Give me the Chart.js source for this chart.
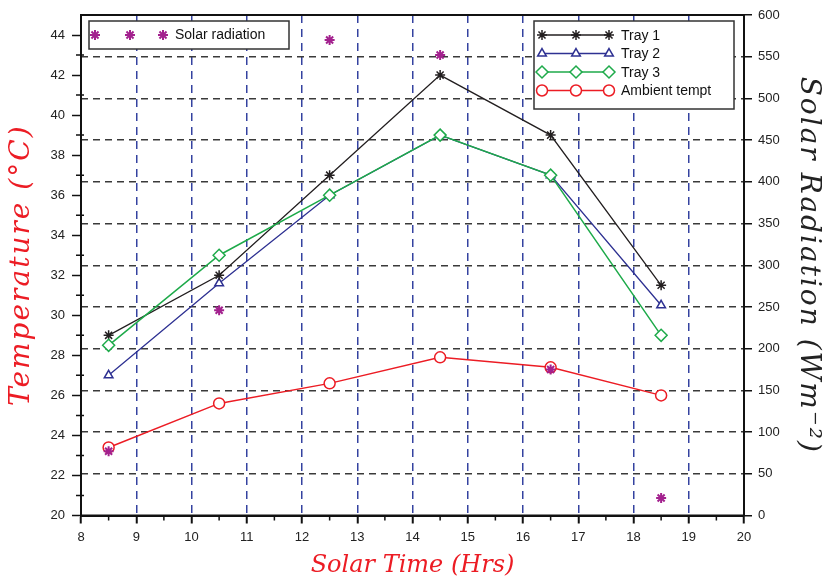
<!DOCTYPE html>
<html>
<head>
<meta charset="utf-8">
<script src="https://cdn.jsdelivr.net/npm/chart.js@4.4.1/dist/chart.umd.min.js"></script>
<style>
  html, body { margin: 0; padding: 0; background: #fff; }
  #wrap { width: 826px; height: 585px; }
</style>
</head>
<body>
<div id="wrap"><canvas id="c" width="826" height="585"></canvas></div>
<script>
// ---- data ----
const hours   = [8.5, 10.5, 12.5, 14.5, 16.5, 18.5];
const tray1   = [29, 32, 37, 42, 39, 31.5];
const tray2   = [27, 31.6, 36, 39, 37, 30.5];
const tray3   = [28.5, 33, 36, 39, 37, 29];
const ambient = [23.4, 25.6, 26.6, 27.9, 27.4, 26.0];
const solar   = [77, 246, 570, 552, 175, 21];

const xTicks    = [8, 9, 10, 11, 12, 13, 14, 15, 16, 17, 18, 19, 20];
const yTicks    = [20, 22, 24, 26, 28, 30, 32, 34, 36, 38, 40, 42, 44];
const y1Ticks   = [0, 50, 100, 150, 200, 250, 300, 350, 400, 450, 500, 550, 600];

const seriesNames = ['Tray 1', 'Tray 2', 'Tray 3', 'Ambient tempt'];
const solarName = 'Solar radiation';

const COL = {
  t1: '#231f20', t2: '#2e3192', t3: '#1eaa4a', amb: '#ec1c24', sol: '#a3218e',
  gridH: '#3a3a3a', gridV: '#3442a0'
};

const pts = arr => hours.map((h, i) => ({ x: h, y: arr[i] }));

const TICK_FONT = { family: 'Liberation Sans, Arial, sans-serif', size: 13 };
const titleFont = size => ({ family: 'DejaVu Serif, serif', size: size, style: 'italic', weight: 'normal' });

// adds letter spacing to a scale's title (math-italic look of the original)
function spacedTitle(s, spacing) {
  if (s._spacedTitle) return;
  s._spacedTitle = true;
  const orig = s.drawTitle;
  s.drawTitle = function () {
    const ctx = this.ctx;
    const prev = ctx.letterSpacing;
    ctx.letterSpacing = spacing;
    orig.apply(this, arguments);
    ctx.letterSpacing = prev || '0px';
  };
}

// draws border frame, minor ticks and the two in-plot legend boxes
const extras = {
  id: 'extras',
  afterDraw(chart) {
    const { ctx, chartArea: a, scales } = chart;
    const dp = Chart.helpers.drawPoint;
    ctx.save();
    ctx.setLineDash([]);
    // frame
    ctx.strokeStyle = '#111';
    ctx.lineWidth = 2;
    ctx.strokeRect(a.left, a.top, a.right - a.left, a.bottom - a.top);
    // minor ticks
    ctx.lineWidth = 1.5;
    ctx.beginPath();
    for (let v = 8.5; v < 20; v += 1) {
      const px = scales.x.getPixelForValue(v);
      ctx.moveTo(px, a.bottom); ctx.lineTo(px, a.bottom + 5);
    }
    for (let v = 21; v < 45; v += 2) {
      const py = scales.y.getPixelForValue(v);
      ctx.moveTo(a.left - 5, py); ctx.lineTo(a.left + 3, py);
    }
    ctx.stroke();

    // legend: solar radiation
    const L1 = { x: 89, y: 21, w: 200, h: 28 };
    ctx.fillStyle = '#fff';
    ctx.fillRect(L1.x, L1.y, L1.w, L1.h);
    ctx.strokeStyle = '#333';
    ctx.lineWidth = 1.5;
    ctx.strokeRect(L1.x, L1.y, L1.w, L1.h);
    ctx.strokeStyle = COL.sol; ctx.fillStyle = COL.sol; ctx.lineWidth = 2;
    [95, 130, 163].forEach(x => dp(ctx, { pointStyle: 'star', radius: 5, rotation: 0, borderWidth: 2 }, x, 35));
    ctx.fillStyle = '#111';
    ctx.font = '14px "Liberation Sans", Arial, sans-serif';
    ctx.textBaseline = 'middle';
    ctx.textAlign = 'left';
    ctx.fillText(solarName, 175, 35);

    // legend: trays
    const L2 = { x: 534, y: 21, w: 200, h: 88 };
    ctx.fillStyle = '#fff';
    ctx.fillRect(L2.x, L2.y, L2.w, L2.h);
    ctx.strokeStyle = '#333';
    ctx.lineWidth = 1.5;
    ctx.strokeRect(L2.x, L2.y, L2.w, L2.h);
    const rows = [
      { c: COL.t1, s: 'star', r: 5, bw: 1.5, fill: COL.t1 },
      { c: COL.t2, s: 'triangle', r: 5, bw: 1.5, fill: '#fff' },
      { c: COL.t3, s: 'rectRot', r: 6, bw: 1.5, fill: '#fff' },
      { c: COL.amb, s: 'circle', r: 5.5, bw: 1.5, fill: '#fff' }
    ];
    rows.forEach((r, i) => {
      const yy = 35 + i * 18.5;
      ctx.strokeStyle = r.c; ctx.lineWidth = 1.5;
      ctx.beginPath(); ctx.moveTo(542, yy); ctx.lineTo(609, yy); ctx.stroke();
      [542, 576, 609].forEach(x => {
        ctx.strokeStyle = r.c; ctx.fillStyle = r.fill; ctx.lineWidth = r.bw;
        dp(ctx, { pointStyle: r.s, radius: r.r, rotation: 0, borderWidth: r.bw }, x, yy);
      });
      ctx.fillStyle = '#111';
      ctx.fillText(seriesNames[i], 621, yy + 1);
    });
    ctx.restore();
  }
};

new Chart(document.getElementById('c'), {
  type: 'line',
  data: {
    datasets: [
      { label: solarName, data: pts(solar), yAxisID: 'y1', showLine: false, order: 0,
        pointStyle: 'star', pointRadius: 5, pointBorderWidth: 2,
        borderColor: COL.sol, backgroundColor: COL.sol },
      { label: seriesNames[2], data: pts(tray3), yAxisID: 'y', order: 1,
        borderColor: COL.t3, borderWidth: 1.5, pointStyle: 'rectRot', pointRadius: 6,
        pointBorderWidth: 1.5, pointBackgroundColor: '#fff', pointBorderColor: COL.t3 },
      { label: seriesNames[0], data: pts(tray1), yAxisID: 'y', order: 2,
        borderColor: COL.t1, borderWidth: 1.3, pointStyle: 'star', pointRadius: 5,
        pointBorderWidth: 1.5, pointBackgroundColor: COL.t1, pointBorderColor: COL.t1 },
      { label: seriesNames[1], data: pts(tray2), yAxisID: 'y', order: 3,
        borderColor: COL.t2, borderWidth: 1.3, pointStyle: 'triangle', pointRadius: 5,
        pointBorderWidth: 1.5, pointBackgroundColor: '#fff', pointBorderColor: COL.t2 },
      { label: seriesNames[3], data: pts(ambient), yAxisID: 'y', order: 4,
        borderColor: COL.amb, borderWidth: 1.5, pointStyle: 'circle', pointRadius: 5.5,
        pointBorderWidth: 1.5, pointBackgroundColor: '#fff', pointBorderColor: COL.amb }
    ]
  },
  options: {
    responsive: false,
    animation: false,
    events: [],
    layout: { padding: { top: 15, left: 0, right: 0, bottom: 0 } },
    plugins: { legend: { display: false }, tooltip: { enabled: false } },
    elements: { line: { tension: 0, fill: false } },
    scales: {
      x: {
        type: 'linear', min: 8, max: 20,
        afterFit: s => { s.height = 69.5; },
        afterBuildTicks: s => { s.ticks = xTicks.map(v => ({ value: v })); },
        ticks: { font: TICK_FONT, color: '#222', padding: 6, maxRotation: 0, autoSkip: false,
                 callback: v => String(v) },
        grid: {
          color: c => (c.tick && (c.tick.value === 8 || c.tick.value === 20)) ? 'rgba(0,0,0,0)' : COL.gridV,
          lineWidth: 1.5, tickLength: 8, tickColor: '#111', tickWidth: 2, tickBorderDash: []
        },
        border: { display: true, color: '#111', width: 2, dash: [8, 6] },
        title: { display: true, text: 'Solar Time (Hrs)', color: COL.amb, font: titleFont(24),
                 padding: { top: 0, bottom: 5 } }
      },
      y: {
        type: 'linear', position: 'left', min: 20, max: 45,
        afterFit: s => { s.width = 81; spacedTitle(s, '2px'); },
        afterBuildTicks: s => { s.ticks = yTicks.map(v => ({ value: v })); },
        ticks: { font: TICK_FONT, color: '#222', padding: 7, callback: v => String(v) },
        grid: { drawOnChartArea: false, tickLength: 9, tickColor: '#111', tickWidth: 1.5 },
        border: { display: true, color: '#111', width: 2 },
        title: { display: true, text: 'Temperature (°C)', color: COL.amb, font: titleFont(28),
                 padding: { top: 5, bottom: 0 } }
      },
      y1: {
        type: 'linear', position: 'right', min: 0, max: 600,
        afterFit: s => { s.width = 82; spacedTitle(s, '2px'); },
        afterBuildTicks: s => { s.ticks = y1Ticks.map(v => ({ value: v })); },
        ticks: { font: TICK_FONT, color: '#222', padding: 6, callback: v => String(v) },
        grid: {
          drawOnChartArea: true,
          color: c => (c.tick && (c.tick.value === 0 || c.tick.value === 600)) ? 'rgba(0,0,0,0)' : COL.gridH,
          lineWidth: 1.5, tickLength: 8, tickColor: '#111', tickWidth: 1.5, tickBorderDash: []
        },
        border: { display: true, color: '#111', width: 2, dash: [7, 5] },
        title: { display: true, text: 'Solar Radiation (Wm⁻²)', color: '#222', font: titleFont(28),
                 padding: { top: 1, bottom: 0 } }
      }
    }
  },
  plugins: [extras]
});
</script>
</body>
</html>
